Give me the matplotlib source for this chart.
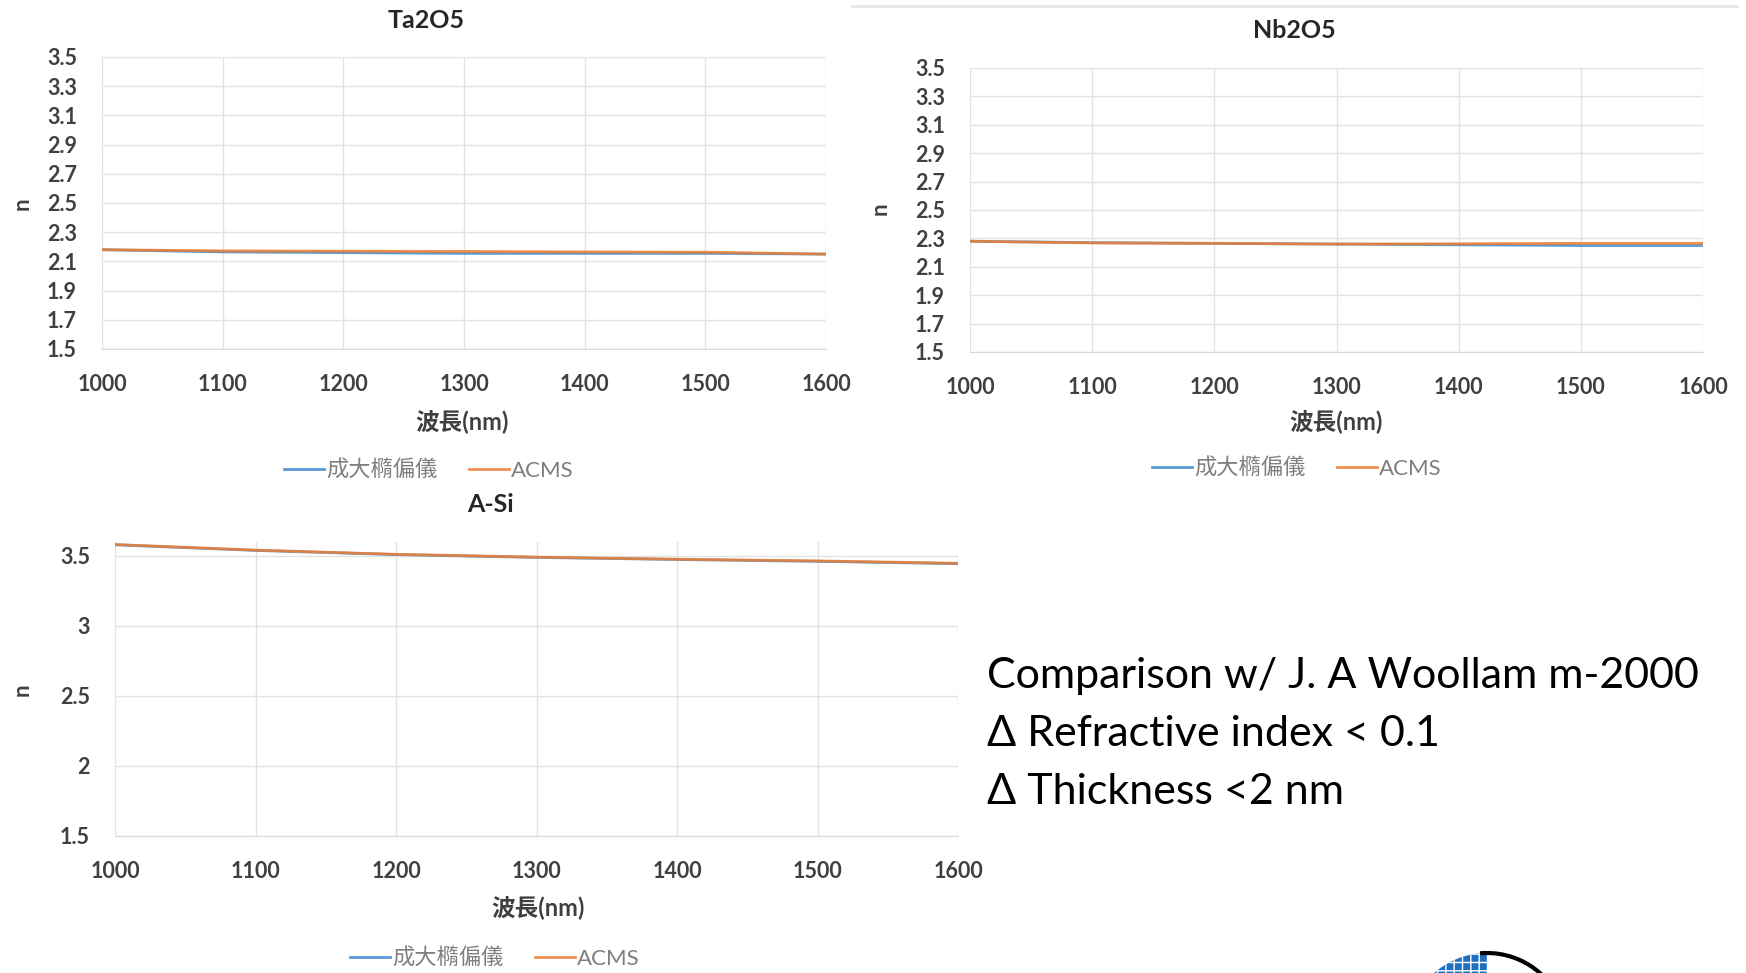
import numpy as np
import matplotlib
matplotlib.use('Agg')
from matplotlib import pyplot as plt
from matplotlib import patches
from matplotlib.lines import Line2D

plt.rcParams['font.family'] = ['Lato', 'Noto Sans CJK TC', 'DejaVu Sans']

# =============================================================================
# data
# =============================================================================
wl = [1000, 1100, 1200, 1300, 1400, 1500, 1600]

ta_ncku = [2.180, 2.165, 2.160, 2.155, 2.155, 2.155, 2.150]
ta_acms = [2.180, 2.172, 2.170, 2.168, 2.165, 2.163, 2.150]

nb_ncku = [2.280, 2.270, 2.265, 2.260, 2.255, 2.250, 2.250]
nb_acms = [2.280, 2.268, 2.265, 2.260, 2.262, 2.265, 2.265]

si_ncku = [3.580, 3.540, 3.510, 3.490, 3.475, 3.462, 3.445]
si_acms = [3.582, 3.542, 3.512, 3.492, 3.477, 3.465, 3.448]

names = ['成大橢偏儀', 'ACMS']
yt_oxide = [1.5, 1.7, 1.9, 2.1, 2.3, 2.5, 2.7, 2.9, 3.1, 3.3, 3.5]
yt_si = [1.5, 2, 2.5, 3, 3.5]
notes = ['Comparison w/ J. A Woollam m-2000',
         'Δ Refractive index < 0.1',
         'Δ Thickness <2 nm']

c_blue = '#5B9BD5'
c_orange = '#ED7D31'
grid_c = '#E3E3E3'
txt_c = '#404040'

W, H = 1746, 973
fig = plt.figure(figsize=(W/100, H/100), dpi=100)


def px(x0, y0, x1, y1):
    # pixel box -> figure fraction
    return [x0/W, 1 - y1/H, (x1-x0)/W, (y1-y0)/H]


def make_panel(rect, y1, y2, yticks, ylim, ticklabs, title, tpos, xlpos, lgpos, npos):
    ax = fig.add_axes(px(*rect))
    ax.plot(wl, y1, color=c_blue, lw=2, label=names[0])
    ax.plot(wl, y2, color=c_orange, lw=2, label=names[1], alpha=0.85)
    ax.set_xlim(1000, 1600)
    ax.set_ylim(*ylim)
    ax.set_xticks(wl)
    ax.set_yticks(yticks)
    ax.set_yticklabels(ticklabs)
    ax.grid(color=grid_c, lw=1)
    ax.set_axisbelow(True)
    for s in ['top', 'right', 'left']:
        ax.spines[s].set_visible(False)
    ax.spines['bottom'].set_color('#D9D9D9')
    ax.tick_params(length=0, labelsize=15.5, labelcolor=txt_c)
    ax.tick_params(axis='x', pad=18)
    ax.tick_params(axis='y', pad=18)
    for lab in ax.get_xticklabels() + ax.get_yticklabels():
        lab.set_fontweight('bold')
    fig.text(tpos[0]/W, 1 - tpos[1]/H, title, ha='center', va='center',
             fontsize=18, fontweight='bold', color='#262626')
    fig.text(xlpos[0]/W, 1 - xlpos[1]/H, '波長(nm)', ha='center', va='center',
             fontsize=17, fontweight='bold', color=txt_c)
    fig.text(npos[0]/W, 1 - npos[1]/H, 'n', ha='center', va='center', rotation=90,
             fontsize=16, fontweight='bold', color=txt_c)
    ax.legend(loc='center', bbox_to_anchor=(lgpos[0]/W, 1 - lgpos[1]/H),
              bbox_transform=fig.transFigure, ncol=2, frameon=False,
              fontsize=16, labelcolor='#7F7F7F', handlelength=1.8,
              handletextpad=0.1, columnspacing=1.4)
    return ax


ax1 = make_panel((102, 57, 826, 349), ta_ncku, ta_acms, yt_oxide, (1.5, 3.5),
                 ['%.1f' % v for v in yt_oxide], 'Ta2O5',
                 (426, 20), (462, 421), (429, 470), (22, 204))
ax2 = make_panel((970, 68, 1703, 352), nb_ncku, nb_acms, yt_oxide, (1.5, 3.5),
                 ['%.1f' % v for v in yt_oxide], 'Nb2O5',
                 (1294, 31), (1336, 421), (1297, 468), (880, 209))
ax3 = make_panel((115, 542, 958, 836), si_ncku, si_acms, yt_si, (1.5, 3.6),
                 ['1.5', '2', '2.5', '3', '3.5'], 'A-Si',
                 (491, 505), (538, 907), (495, 958), (22, 690))

# notes on the right
for i, t in enumerate(notes):
    fig.text(987/W, 1 - (676 + 58*i)/H, t, ha='left', va='center',
             fontsize=31, color='black')

# faint border line of the pasted picture at top right
fig.add_artist(Line2D([852/W, 1737/W], [1 - 6/H, 1 - 6/H], color='#E6E6E6', lw=2))

# cut-off logo at bottom right
axl = fig.add_axes(px(1400, 940, 1600, 973))
axl.set_xlim(1400, 1600)
axl.set_ylim(973, 940)
axl.axis('off')
axl.add_patch(patches.Wedge((1487, 1033), 80, 180, 270, facecolor='#1F6FBF',
                            edgecolor='white', hatch='++', lw=0))
axl.add_patch(patches.Arc((1487, 1033), 160, 160, theta1=265, theta2=340,
                          color='black', lw=3))

fig.savefig('out.png', dpi=100, facecolor='white')
